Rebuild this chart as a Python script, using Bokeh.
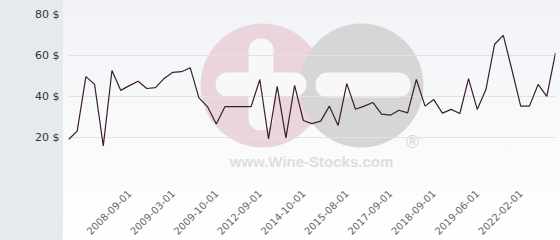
from bokeh.plotting import figure
from bokeh.models import (Range1d, FixedTicker, PrintfTickFormatter, BoxAnnotation, Label)
from bokeh.embed import file_html
from bokeh.resources import INLINE

# ---- data ----
prices = [19.0, 23.1, 49.7, 45.9, 15.9, 52.7, 43.0, 45.3, 47.4, 43.9,
          44.3, 48.8, 51.8, 52.1, 54.0, 39.3, 34.9, 26.6, 35.1, 35.1,
          35.1, 35.1, 48.3, 19.3, 44.9, 19.8, 45.4, 28.3, 26.8, 28.0,
          35.3, 25.9, 46.3, 33.8, 35.3, 37.1, 31.4, 30.9, 33.3, 32.0,
          48.3, 35.3, 38.5, 31.9, 33.7, 31.7, 48.7, 33.7, 43.4, 65.5,
          69.8, 52.8, 35.3, 35.3, 45.9, 40.1, 61.3]
tick_labels = ["2008-09-01", "2009-03-01", "2009-10-01", "2012-09-01", "2014-10-01",
               "2015-08-01", "2017-09-01", "2018-09-01", "2019-06-01", "2022-02-01"]
tick_index = [7, 12, 17, 22, 27, 32, 37, 42, 47, 52]
y_ticks = [20, 40, 60, 80]
x = list(range(len(prices)))

p = figure(frame_width=487, frame_height=164, output_backend="svg", toolbar_location=None,
           x_range=Range1d(0, len(prices) - 1), y_range=Range1d(0, 80),
           min_border_left=68, min_border_right=5, min_border_top=14, min_border_bottom=62,
           styles={"background": "linear-gradient(to right, #e6eaed 63px, rgba(0,0,0,0) 63px), "
                                 "linear-gradient(to bottom, #f2f3f7, #ffffff 240px)"})
p.outline_line_color = None
p.background_fill_color = None
p.border_fill_color = None

# watermark
def box(l, r, t, b, color, rad):
    p.add_layout(BoxAnnotation(left=l, right=r, top=t, bottom=b,
                               left_units="canvas", right_units="canvas",
                               top_units="canvas", bottom_units="canvas",
                               fill_color=color, fill_alpha=1, line_color=None,
                               border_radius=rad, level="image"))

box(200, 324, 23, 147, "#ead5dc", 62)
box(299, 423, 23, 147, "#d6d6d6", 62)
box(248, 273, 38, 130, "#f8f8fa", 12)
box(215, 306, 72, 96, "#f8f8fa", 12)
box(315, 410, 72, 97, "#f8f8fa", 12)
p.add_layout(Label(x=311, y=161, x_units="canvas", y_units="canvas", text="www.Wine-Stocks.com",
                   text_font="Liberation Sans", text_font_style="bold", text_font_size="15px",
                   text_color="#dedede", text_align="center", text_baseline="middle", level="image"))
p.add_layout(Label(x=412, y=141, x_units="canvas", y_units="canvas", text="®",
                   text_font="DejaVu Sans", text_font_size="17px",
                   text_color="#d6d6d6", text_align="center", text_baseline="middle", level="image"))

# data line
p.line(x, prices, line_color="#3a1e2c", line_width=1.2)

# axes & grid
p.xgrid.visible = False
p.ygrid.ticker = FixedTicker(ticks=[0] + y_ticks)
p.ygrid.grid_line_color = "#e2e2e2"
p.ygrid.grid_line_width = 1

p.yaxis.ticker = FixedTicker(ticks=y_ticks)
p.yaxis.formatter = PrintfTickFormatter(format="%d $")
p.yaxis.axis_line_color = None
p.yaxis.major_tick_line_color = None
p.yaxis.minor_tick_line_color = None
p.yaxis.major_tick_out = 0
p.yaxis.major_label_standoff = 9
p.yaxis.major_label_text_font = "DejaVu Sans"
p.yaxis.major_label_text_font_size = "11px"
p.yaxis.major_label_text_color = "#333333"

p.xaxis.ticker = FixedTicker(ticks=tick_index)
p.xaxis.major_label_overrides = {i: s for i, s in zip(tick_index, tick_labels)}
p.xaxis.major_label_orientation = 0.785398
p.xaxis.axis_line_color = None
p.xaxis.major_tick_line_color = None
p.xaxis.minor_tick_line_color = None
p.xaxis.major_tick_out = 0
p.xaxis.major_label_standoff = 13
p.xaxis.major_label_text_font = "DejaVu Sans"
p.xaxis.major_label_text_font_size = "10px"
p.xaxis.major_label_text_color = "#666666"

open("out.html", "w").write(file_html(p, INLINE))
